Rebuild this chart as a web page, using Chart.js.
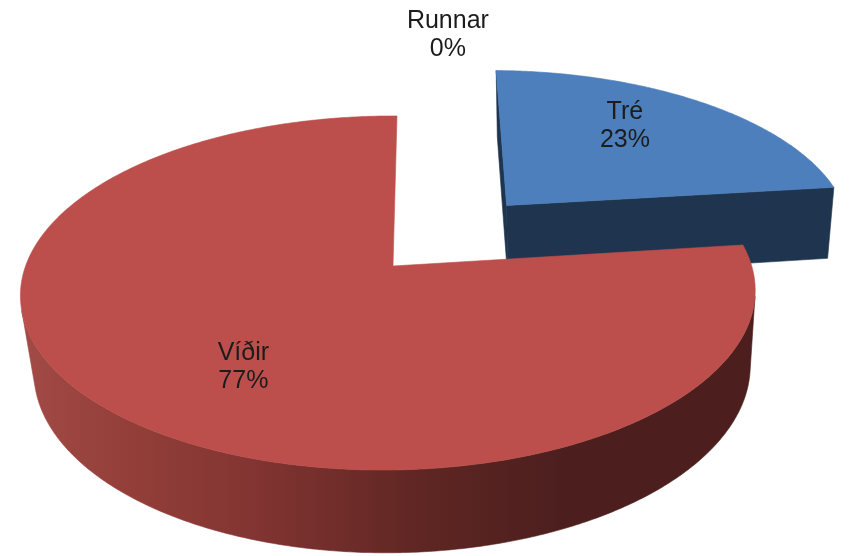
<!DOCTYPE html>
<html lang="en">
<head>
    <meta charset="UTF-8">
    <title>Tré, Víðir, Runnar</title>
    <script src="https://cdn.jsdelivr.net/npm/chart.js"></script>
    <style>
        body { margin: 0; background: #fff; }
        canvas { display: block; filter: blur(0.6px); }
    </style>
</head>
<body>
    <canvas id="pie" width="851" height="556"></canvas>

    <script>
        const categories = ['Tré', 'Víðir', 'Runnar'];
        const values = [23, 77, 0];

        // Per slice styling and explosion (in pie radii)
        const explode = [0.495, 0, 0];
        const topColors = ['#4c7fbb', '#bc4f4b', '#9bbb59'];
        const showCuts = [true, false, false];
        // Label position on the pie plane, relative to the slice apex, in pie radii
        const labelSpots = [[0.396, -0.56], [-0.37, 0.535], [0.169, -1.68]];

        // Camera: pie plane to screen, z = 0 top face, z = 1 bottom face
        const cam = { x0: 393, y0: 266, a: 363, b: 172.9, shear: -4.6, k: 0.1525, j: 0.012, m: 0.025, d: 77.3, g: 4 };

        const project = (u, v, z) => {
            const s = 1 / (1 - cam.k * v + cam.j * u + cam.m * z);
            return {
                x: cam.x0 + (cam.a * u + cam.shear * v + cam.g * z) * s,
                y: cam.y0 + (cam.b * v + cam.d * z) * s
            };
        };

        const sideStyle = (ctx, index) => {
            if (index === 0) return '#1f344e';
            const g = ctx.createLinearGradient(20, 0, 755, 0);
            g.addColorStop(0, '#a34b46');
            g.addColorStop(0.15, '#933e39');
            g.addColorStop(0.31, '#833532');
            g.addColorStop(0.45, '#6e2c29');
            g.addColorStop(0.545, '#5f2623');
            g.addColorStop(0.735, '#4c1f1e');
            g.addColorStop(1, '#4c1f1e');
            return g;
        };

        // Outline of a slice on the pie plane, walked with increasing angle
        const outline = (arc, index) => {
            const mid = (arc.startAngle + arc.endAngle) / 2;
            const ex = Math.cos(mid) * explode[index];
            const ey = Math.sin(mid) * explode[index];
            const pts = [[ex, ey]];
            const steps = Math.max(2, Math.ceil((arc.endAngle - arc.startAngle) / 0.01));
            for (let i = 0; i <= steps; i++) {
                const a = arc.startAngle + (arc.endAngle - arc.startAngle) * i / steps;
                pts.push([ex + Math.cos(a), ey + Math.sin(a)]);
            }
            return pts;
        };

        const fillPoly = (ctx, poly) => {
            ctx.beginPath();
            poly.forEach((p, i) => i ? ctx.lineTo(p.x, p.y) : ctx.moveTo(p.x, p.y));
            ctx.closePath();
            ctx.fill();
            ctx.stroke();
        };

        const area = (poly) => poly.reduce((sum, p, i) => {
            const q = poly[(i + 1) % poly.length];
            return sum + p.x * q.y - q.x * p.y;
        }, 0);

        // Joins the camera facing wall segments of a slice into whole polygons
        const wallRuns = (pts, index) => {
            const runs = [];
            let run = null;
            pts.forEach((p, n) => {
                const q = pts[(n + 1) % pts.length];
                const isCut = n === 0 || n === pts.length - 1;
                const quad = [project(p[0], p[1], 0), project(q[0], q[1], 0), project(q[0], q[1], 1), project(p[0], p[1], 1)];
                if (area(quad) < 0 && (!isCut || showCuts[index])) {
                    if (!run) run = { top: [quad[0]], bottom: [quad[3]] };
                    run.top.push(quad[1]);
                    run.bottom.push(quad[2]);
                } else if (run) {
                    runs.push(run);
                    run = null;
                }
            });
            if (run) runs.push(run);
            return runs.map(r => r.top.concat(r.bottom.reverse()));
        };

        const pie3d = {
            id: 'pie3d',
            beforeDatasetsDraw(chart) {
                const ctx = chart.ctx;
                const arcs = chart.getDatasetMeta(0).data;
                const order = arcs.map((arc, i) => i)
                    .filter(i => arcs[i].endAngle > arcs[i].startAngle)
                    .sort((p, q) => Math.sin((arcs[p].startAngle + arcs[p].endAngle) / 2) - Math.sin((arcs[q].startAngle + arcs[q].endAngle) / 2));

                ctx.save();
                ctx.lineWidth = 0.6;
                ctx.lineJoin = 'round';
                order.forEach(i => {
                    const pts = outline(arcs[i], i);
                    const side = sideStyle(ctx, i);
                    ctx.fillStyle = side;
                    ctx.strokeStyle = side;
                    wallRuns(pts, i).forEach(poly => fillPoly(ctx, poly));
                    ctx.fillStyle = topColors[i];
                    ctx.strokeStyle = topColors[i];
                    fillPoly(ctx, pts.map(p => project(p[0], p[1], 0)));
                });
                ctx.restore();

                // Labels sit on top of every slice
                const total = values.reduce((a, b) => a + b, 0);
                ctx.save();
                ctx.font = '25px "Liberation Sans", Arial, sans-serif';
                ctx.fillStyle = '#1c1c1c';
                ctx.textAlign = 'center';
                ctx.textBaseline = 'middle';
                arcs.forEach((arc, i) => {
                    const mid = (arc.startAngle + arc.endAngle) / 2;
                    const pos = project(Math.cos(mid) * explode[i] + labelSpots[i][0], Math.sin(mid) * explode[i] + labelSpots[i][1], 0);
                    ctx.fillText(categories[i], pos.x, pos.y - 14);
                    ctx.fillText(Math.round(values[i] / total * 100) + '%', pos.x, pos.y + 14);
                });
                ctx.restore();
                return false;
            }
        };

        new Chart(document.getElementById('pie'), {
            type: 'pie',
            data: {
                labels: categories,
                datasets: [{ data: values, backgroundColor: topColors, borderWidth: 0 }]
            },
            options: {
                responsive: false,
                animation: false,
                plugins: { legend: { display: false }, tooltip: { enabled: false } }
            },
            plugins: [pie3d]
        });
    </script>
</body>
</html>
